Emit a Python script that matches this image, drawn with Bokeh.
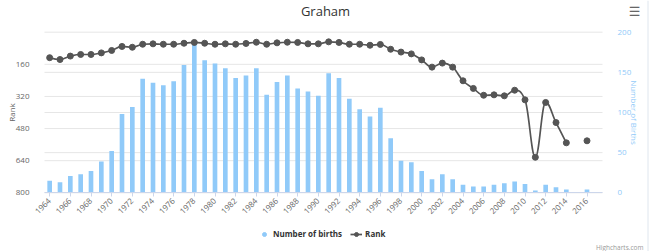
import math
import numpy as np
from bokeh.plotting import figure
from bokeh.models import (Range1d, LinearAxis, FixedTicker, ColumnDataSource,
                          Legend, LegendItem, Label, Span)
from bokeh.embed import file_html
from bokeh.resources import INLINE

title_text = "Graham"
years = list(range(1964, 2017))
births = [15, 13, 21, 23, 27, 39, 52, 98, 107, 142, 137, 134, 139, 159, 187, 165, 161, 155,
          143, 146, 155, 122, 138, 146, 130, 126, 121, 149, 143, 117, 104, 95, 106, 68, 40,
          38, 27, 17, 23, 17, 10, 8, 8, 10, 12, 14, 11, 3, 10, 7, 4, float("nan"), 4]
ranks = [127, 136, 119, 111, 111, 103, 91, 71, 75, 60, 58, 60, 60, 55, 51, 55, 60, 58, 60,
         56, 50, 60, 53, 50, 51, 58, 58, 48, 51, 60, 60, 65, 61, 85, 99, 108, 138, 174, 154,
         174, 242, 280, 314, 312, 317, 289, 337, 623, 350, 450, 551, float("nan"), 541]
rank_ticks = [160, 320, 480, 640, 800]
births_ticks = [0, 50, 100, 150, 200]
year_ticks = list(range(1964, 2017, 2))

BAR = "#90CAF9"
LINE = "#555555"
FONT = "Open Sans"
GRID = "#e6e6e6"

# canvas and plot-area geometry (pixels)
W, H = 650, 251
PL, PR, PT, PB = 44, 602, 31.7, 192.3
X0, X1 = years[0] - 0.5, years[-1] + 1.5      # visible year span in plot area
R0, R1 = 0, 800                               # rank span (top -> bottom)
B0, B1 = 0, 200                               # births span (bottom -> top)

xs = (X1 - X0) / (PR - PL)
x_start, x_end = X0 - PL * xs, X1 + (W - PR) * xs
rs = (R1 - R0) / (PB - PT)
r_top, r_bot = R0 - PT * rs, R1 + (H - PB) * rs
bs = (B1 - B0) / (PB - PT)
b_bot, b_top = B0 - (H - PB) * bs, B1 + PT * bs

p = figure(width=W, height=H, output_backend="svg", toolbar_location=None,
           x_range=Range1d(x_start, x_end), y_range=Range1d(r_bot, r_top),
           min_border=0, min_border_left=0, min_border_right=0,
           min_border_top=0, min_border_bottom=0)
p.title = None
p.outline_line_color = None
p.xgrid.visible = False
p.ygrid.visible = False
p.extra_y_ranges = {"births": Range1d(b_bot, b_top),
                    "legend_only": Range1d(-2, -1)}   # keeps the legend-symbol renderer off canvas

# grid lines limited to the plot area
p.segment(x0=X0, x1=X1, y0=rank_ticks, y1=rank_ticks, line_color=GRID, line_width=1)
p.segment(x0=X0, x1=X1, y0=births_ticks[1:], y1=births_ticks[1:], y_range_name="births",
          line_color=GRID, line_width=1)

# axes pinned to plot-area edges
xa = p.xaxis[0]
xa.fixed_location = R1
xa.bounds = (X0, X1)
xa.ticker = FixedTicker(ticks=year_ticks)
xa.major_label_orientation = math.pi / 4
xa.axis_line_color = "#ccd6eb"
xa.major_tick_line_color = "#ccd6eb"
xa.major_tick_out = 4
xa.major_tick_in = 0
xa.minor_tick_line_color = None
xa.major_label_text_font = FONT
xa.major_label_text_font_size = "8px"
xa.major_label_text_color = "#666666"
xa.major_label_standoff = 3

ya = p.yaxis[0]
ya.fixed_location = X0
ya.ticker = FixedTicker(ticks=rank_ticks)
ya.axis_line_color = None
ya.major_tick_line_color = None
ya.minor_tick_line_color = None
ya.major_label_text_font = FONT
ya.major_label_text_font_size = "8px"
ya.major_label_text_color = "#666666"
ya.major_label_standoff = 9

ra = LinearAxis(y_range_name="births", ticker=FixedTicker(ticks=births_ticks), fixed_location=X1)
ra.axis_line_color = None
ra.major_tick_line_color = None
ra.minor_tick_line_color = None
ra.major_label_text_font = FONT
ra.major_label_text_font_size = "8px"
ra.major_label_text_color = BAR
ra.major_label_standoff = 9
p.add_layout(ra, "right")

# bars
src = ColumnDataSource(dict(x=years, births=births, rank=ranks))
p.vbar(x="x", top="births", bottom=0, width=0.45, source=src, y_range_name="births",
       fill_color=BAR, line_color=None)

# spline (Highcharts-style) built from the rank data
def spline_segments(xv, yv, smoothing=1.5):
    segs, cur = [], []
    for x, y in zip(xv, yv):
        if y is None or (isinstance(y, float) and math.isnan(y)):
            if cur:
                segs.append(cur)
            cur = []
        else:
            cur.append((x, y))
    if cur:
        segs.append(cur)
    out = dict(x0=[], y0=[], x1=[], y1=[], cx0=[], cy0=[], cx1=[], cy1=[])
    denom = smoothing + 1
    for seg in segs:
        n = len(seg)
        if n < 2:
            continue
        lc, rc = [None] * n, [None] * n
        for i in range(n):
            px, py = seg[i]
            if 0 < i < n - 1:
                lx, ly = seg[i - 1]
                nx, ny = seg[i + 1]
                lcx = (smoothing * px + lx) / denom
                lcy = (smoothing * py + ly) / denom
                rcx = (smoothing * px + nx) / denom
                rcy = (smoothing * py + ny) / denom
                corr = (rcy - lcy) * (rcx - px) / (rcx - lcx) + py - rcy
                lcy += corr
                rcy += corr
                if lcy > ly and lcy > py:
                    lcy = max(ly, py); rcy = 2 * py - lcy
                elif lcy < ly and lcy < py:
                    lcy = min(ly, py); rcy = 2 * py - lcy
                if rcy > ny and rcy > py:
                    rcy = max(ny, py); lcy = 2 * py - rcy
                elif rcy < ny and rcy < py:
                    rcy = min(ny, py); lcy = 2 * py - rcy
                lc[i], rc[i] = (lcx, lcy), (rcx, rcy)
            else:
                lc[i] = rc[i] = (px, py)
        for i in range(1, n):
            out["x0"].append(seg[i - 1][0]); out["y0"].append(seg[i - 1][1])
            out["x1"].append(seg[i][0]); out["y1"].append(seg[i][1])
            out["cx0"].append(rc[i - 1][0]); out["cy0"].append(rc[i - 1][1])
            out["cx1"].append(lc[i][0]); out["cy1"].append(lc[i][1])
    return out

bz = ColumnDataSource(spline_segments(years, ranks))
rank_line = p.bezier(x0="x0", y0="y0", x1="x1", y1="y1", cx0="cx0", cy0="cy0", cx1="cx1",
                     cy1="cy1", source=bz, line_color=LINE, line_width=1.7)
rank_pts = p.scatter(x="x", y="rank", source=src, size=6, marker="circle",
                     fill_color=LINE, line_color=LINE)

# legend symbol for the bars: circle renderer mapped to a range that keeps it off canvas
births_sym = p.scatter(x="x", y="births", source=src, y_range_name="legend_only", size=8,
                       marker="circle", fill_color=BAR, line_color=BAR)
legend = Legend(items=[LegendItem(label="Number of births", renderers=[births_sym], index=0),
                       LegendItem(label="Rank", renderers=[rank_line, rank_pts], index=0)],
                orientation="horizontal", location=(258, 12),
                label_text_font=FONT, label_text_font_size="8px", label_text_font_style="bold",
                label_text_color="#333333", glyph_width=12, glyph_height=10, label_standoff=3,
                spacing=8, padding=0, margin=0, border_line_color=None,
                background_fill_alpha=0, label_height=8)
p.add_layout(legend, "center")

# texts (canvas units: origin top-left)
p.add_layout(Label(x=325, y=10, x_units="canvas", y_units="canvas", text=title_text,
                   text_align="center", text_baseline="middle", text_font=FONT,
                   text_font_size="13px", text_color="#333333"))
p.add_layout(Label(x=11, y=112, x_units="canvas", y_units="canvas", text="Rank",
                   angle=math.pi / 2, text_align="center", text_baseline="middle",
                   text_font=FONT, text_font_size="8px", text_color="#666666"))
p.add_layout(Label(x=634, y=112, x_units="canvas", y_units="canvas", text="Number of Births",
                   angle=-math.pi / 2, text_align="center", text_baseline="middle",
                   text_font=FONT, text_font_size="8px", text_color=BAR))
p.add_layout(Label(x=643, y=247, x_units="canvas", y_units="canvas", text="Highcharts.com",
                   text_align="right", text_baseline="middle", text_font=FONT,
                   text_font_size="6.5px", text_color="#999999"))
p.add_layout(Label(x=634, y=11, x_units="canvas", y_units="canvas", text="\u2630",
                   text_align="center", text_baseline="middle", text_font="DejaVu Sans",
                   text_font_size="13px", text_color="#666666"))
p.add_layout(Span(location=x_start + 647.5 * xs, dimension="height",
                  line_color="#dfe6ee", line_width=1))

open("out.html", "w").write(file_html(p, INLINE))
